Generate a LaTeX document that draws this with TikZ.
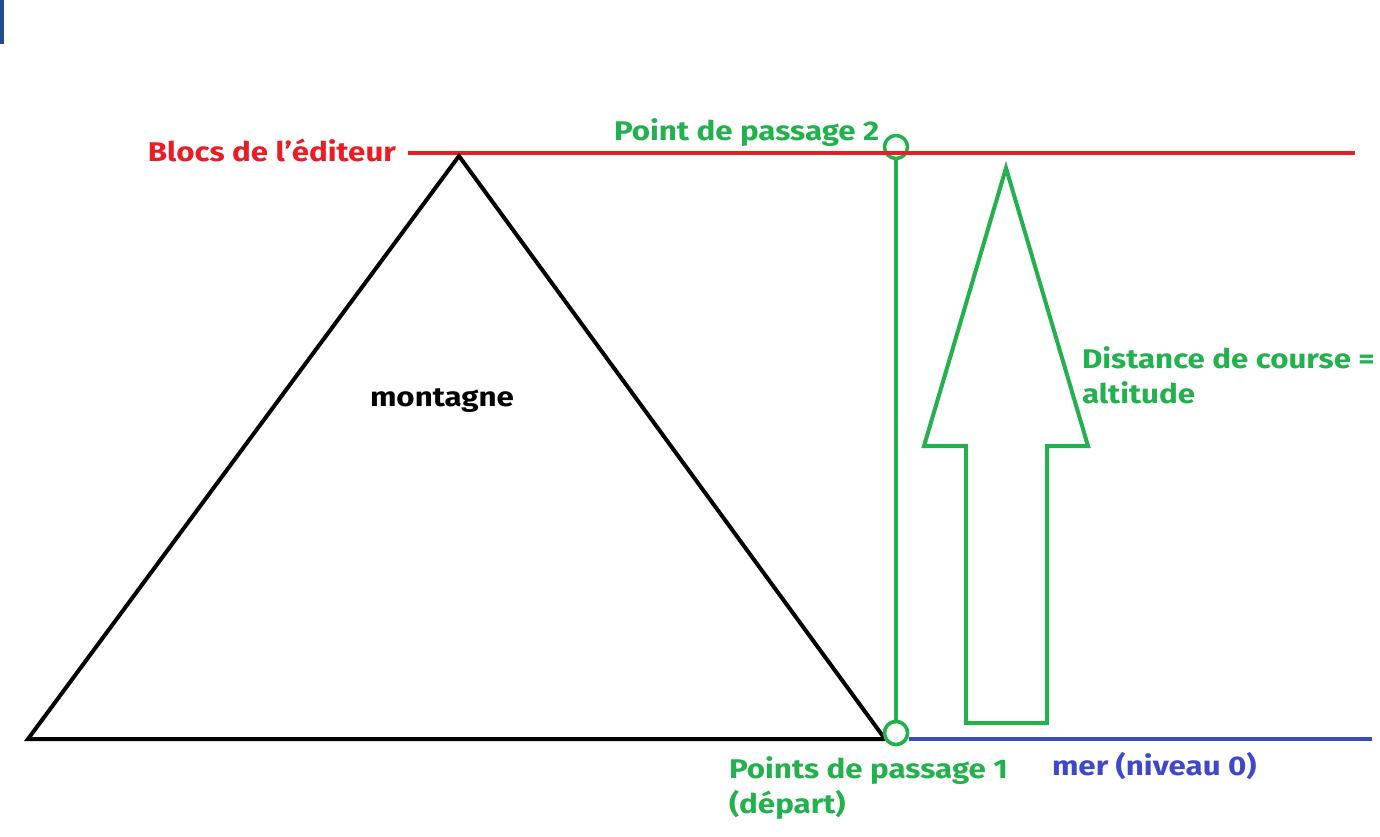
\documentclass[tikz,border=0pt]{standalone}
\usepackage{fontspec}
\setmainfont{Fira Sans}[FakeStretch=1.16]
\definecolor{paintred}{HTML}{ED1C24}
\definecolor{paintgreen}{HTML}{22B14C}
\definecolor{paintblue}{HTML}{3F48CC}
\definecolor{cornerblue}{HTML}{1F4E8C}
\begin{document}
\begin{tikzpicture}[x=1pt, y=-1pt, line width=4pt,
        label/.style = {font=\bfseries\fontsize{27}{35}\selectfont, inner sep=0pt, align=left},
        waypoint/.style = {shape=circle, draw=paintgreen, line width=3.5pt, minimum size=23pt, inner sep=0pt}]
    \useasboundingbox (0,0) rectangle (1380,836);
    \fill[cornerblue] (0,0) rectangle (4,44);
    % niveaux
    \coordinate (blocs start) at (408,153);
    \coordinate (blocs end) at (1355,153);
    \coordinate (mer end) at (1372,739);
    % montagne
    \coordinate (foot left) at (28,739);
    \coordinate (peak) at (459,156);
    \coordinate (foot right) at (885,739);
    \node[waypoint] (wp2) at (896,147) {};
    \node[waypoint] (wp1) at (896,733) {};
    \draw[paintred] (blocs start) -- (blocs end);
    \draw[paintblue] (wp1.east |- mer end) -- (mer end);
    \draw[line join=miter] (foot right) -- (foot left) -- (peak) -- (foot right);
    \draw[paintgreen] (wp2.south) -- (wp1.north);
    \node[waypoint, fill=white] at (wp1) {};
    % fleche
    \draw[paintgreen, line join=miter] (1006,168) -- (1088,446) -- (1047,446) -- (1047,723)
        -- (966,723) -- (966,446) -- (924,446) -- cycle;
    % textes
    \node[label, text=paintred, anchor=east] (blocs) at (398,150) {Blocs de l'éditeur};
    \node[label, text=paintgreen, anchor=west] (wp2 text) at (612,133) {Point de passage 2};
    \node[label, text=paintgreen, anchor=north west] (course) at (1080,345) {Distance de course =\\altitude};
    \node[label, anchor=west] (montagne) at (368,401) {montagne};
    \node[label, text=paintgreen, anchor=north west] (wp1 text) at (727,755) {Points de passage 1\\ (départ)};
    \node[label, text=paintblue, anchor=west] (mer) at (1050,766) {mer (niveau 0)};
\end{tikzpicture}
\end{document}
